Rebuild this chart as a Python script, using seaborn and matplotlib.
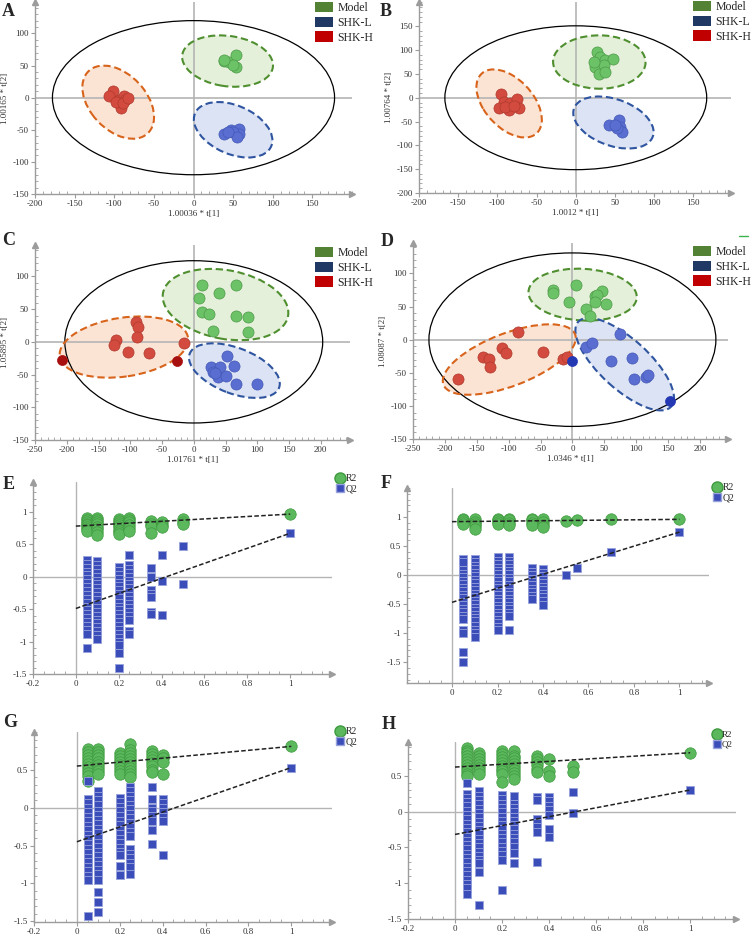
import matplotlib
matplotlib.use("Agg")
import matplotlib.pyplot as plt
from matplotlib.patches import Ellipse, Patch
from matplotlib.lines import Line2D
from matplotlib.ticker import FixedLocator, AutoMinorLocator, FuncFormatter
import seaborn as sns

sns.set_style("white")
plt.rcParams['font.family'] = ['Liberation Serif', 'DejaVu Serif']

# ---------------- PCA / PLS-DA score data ----------------
group_names = ['Model', 'SHK-L', 'SHK-H']

# panel A
a_model_t1 = [39, 45, 54, 53, 50, 38]
a_model_t2 = [57, 56, 67, 47, 51, 59]
a_shkl_t1 = [38, 47, 57, 58, 50, 55, 43]
a_shkl_t2 = [-56, -51, -48, -57, -54, -61, -53]
a_shkh_t1 = [-102, -106, -94, -88, -86, -92, -98, -89, -83]
a_shkh_t2 = [11, 3, -3, 2, -3, -16, -6, -8, 0]

# panel B
b_model_t1 = [27, 31, 37, 48, 24, 36, 29, 37, 23]
b_model_t2 = [95, 86, 80, 82, 65, 69, 50, 55, 74]
b_shkl_t1 = [43, 55, 56, 59, 52, 50]
b_shkl_t2 = [-57, -46, -61, -71, -63, -57]
b_shkh_t1 = [-95, -92, -84, -75, -73, -98, -85, -90, -79]
b_shkh_t2 = [8, -8, -11, -2, -21, -21, -25, -19, -17]

# panel C
c_model_t1 = [13, 67, 9, 39, 13, 24, 67, 85, 86, 30]
c_model_t2 = [87, 87, 67, 75, 46, 43, 40, 38, 15, 17]
c_shkl_t1 = [53, 63, 27, 42, 31, 38, 50, 67, 100, 34]
c_shkl_t2 = [-21, -37, -38, -38, -46, -53, -52, -64, -64, -47]
c_shkh_t1 = [-91, -88, -122, -125, -89, -103, -71, -16]
c_shkh_t2 = [30, 23, 3, -5, 8, -15, -17, -2]
c_out_t1 = [-207, -27]
c_out_t2 = [-27, -29]

# panel D
d_model_t1 = [-30, -30, 6, -6, 36, 47, 39, 52, 36, 22, 28]
d_model_t2 = [75, 71, 83, 57, 66, 74, 68, 54, 57, 47, 36]
d_shkl_t1 = [75, 22, 31, 60, 93, 96, 116, 119]
d_shkl_t2 = [9, -11, -5, -32, -27, -59, -56, -54]
d_out_t1 = [0, 153]
d_out_t2 = [-32, -92]
d_shkh_t1 = [-86, -110, -104, -46, -140, -131, -129, -179, -14, -9]
d_shkh_t2 = [12, -12, -20, -18, -26, -29, -42, -60, -29, -26]

# confidence ellipses: (centre t1, centre t2, width, height, angle)
a_ellipses = [(43, 57, 116, 78, -12), (50, -50, 110, 72, -35), (-95, -7, 124, 76, -60)]
b_ellipses = [(30, 75, 118, 112, -5), (48, -52, 124, 84, -50), (-85, -12, 150, 70, -70)]
c_ellipses = [(50, 57, 200, 105, -10), (64, -44, 150, 70, -20), (-110, -8, 204, 90, 8)]
d_ellipses = [(16, 68, 170, 78, -3), (82, -37, 194, 76, -41), (-99, -30, 220, 80, 20)]
hotelling = {'A': (356, 240), 'B': (334, 302), 'C': (406, 248), 'D': (450, 262)}

# axis titles
a_labels = ('1.00036 * t[1]', '1.00165 * t[2]')
b_labels = ('1.0012 * t[1]', '1.00764 * t[2]')
c_labels = ('1.01761 * t[1]', '1.05895 * t[2]')
d_labels = ('1.0346 * t[1]', '1.08087 * t[2]')

# ---------------- permutation test data ----------------
e_cols = [0.05, 0.1, 0.2, 0.25, 0.35, 0.4, 0.5, 1.0]
e_r2 = [[0.91, 0.88, 0.85, 0.82, 0.79, 0.76, 0.73, 0.70],
        [0.91, 0.88, 0.85, 0.81, 0.77, 0.73, 0.69, 0.65],
        [0.89, 0.86, 0.83, 0.80, 0.76, 0.72, 0.69, 0.66],
        [0.91, 0.88, 0.84, 0.80, 0.75, 0.70],
        [0.86, 0.82, 0.78, 0.67],
        [0.84, 0.80, 0.77],
        [0.89, 0.85, 0.81],
        [0.965]]
e_q2 = [[0.25, 0.2, 0.14, 0.08, 0.02, -0.04, -0.1, -0.16, -0.22, -0.28, -0.34, -0.4, -0.46, -0.52,
         -0.58, -0.64, -0.7, -0.76, -0.82, -0.89, -1.1],
        [0.24, 0.18, 0.12, 0.06, 0.0, -0.06, -0.12, -0.18, -0.24, -0.3, -0.36, -0.42, -0.48, -0.54,
         -0.6, -0.66, -0.72, -0.78, -0.84, -0.9, -0.96],
        [0.15, 0.09, 0.03, -0.03, -0.09, -0.15, -0.21, -0.27, -0.33, -0.4, -0.46, -0.52, -0.58, -0.64,
         -0.7, -0.76, -0.82, -0.88, -0.94, -1.0, -1.05, -1.18, -1.41],
        [0.34, 0.18, 0.12, 0.06, 0.0, -0.06, -0.12, -0.18, -0.24, -0.3, -0.36, -0.42, -0.48, -0.54,
         -0.6, -0.67, -0.83, -0.88],
        [0.14, -0.01, -0.2, -0.26, -0.32, -0.55, -0.58],
        [0.33, -0.06, -0.59],
        [0.47, -0.12],
        [0.67]]
e_intercepts = (0.78, -0.49)

f_cols = [0.05, 0.1, 0.2, 0.25, 0.35, 0.4, 0.5, 0.55, 0.7, 1.0]
f_r2 = [[0.97, 0.94, 0.91, 0.88],
        [0.96, 0.92, 0.88, 0.84, 0.80],
        [0.97, 0.94, 0.91, 0.88],
        [0.97, 0.94, 0.90, 0.86],
        [0.97, 0.94, 0.90, 0.86],
        [0.96, 0.92, 0.87, 0.82],
        [0.93], [0.94], [0.96], [0.96]]
f_q2 = [[0.27, 0.22, 0.08, 0.02, -0.04, -0.1, -0.16, -0.22, -0.28, -0.34, -0.4, -0.46, -0.52, -0.58,
         -0.64, -0.7, -0.76, -0.94, -1.0, -1.33, -1.49],
        [0.28, 0.22, 0.16, 0.1, 0.04, -0.02, -0.08, -0.14, -0.2, -0.26, -0.32, -0.38, -0.44, -0.5,
         -0.56, -0.62, -0.68, -0.74, -0.8, -0.88, -0.94, -1.0, -1.06],
        [0.31, 0.25, 0.19, 0.13, 0.07, 0.01, -0.05, -0.11, -0.17, -0.23, -0.29, -0.35, -0.41, -0.47,
         -0.53, -0.59, -0.65, -0.71, -0.77, -0.83, -0.89, -0.94],
        [0.31, 0.25, 0.19, 0.13, 0.07, 0.01, -0.05, -0.11, -0.17, -0.23, -0.29, -0.35, -0.41, -0.47,
         -0.53, -0.59, -0.65, -0.71, -0.95],
        [0.12, 0.06, 0.0, -0.06, -0.12, -0.18, -0.24, -0.3, -0.36, -0.42],
        [0.1, 0.04, -0.02, -0.08, -0.14, -0.2, -0.26, -0.32, -0.38, -0.44, -0.52],
        [0.0], [0.12], [0.4], [0.74]]
f_intercepts = (0.92, -0.47)

g_cols = [0.05, 0.1, 0.2, 0.25, 0.35, 0.4, 1.0]
g_r2 = [[0.78, 0.74, 0.70, 0.66, 0.62, 0.58, 0.54, 0.50, 0.46, 0.42, 0.35],
        [0.77, 0.73, 0.69, 0.65, 0.61, 0.57, 0.53, 0.49, 0.45],
        [0.72, 0.68, 0.64, 0.60, 0.56, 0.52, 0.48, 0.44],
        [0.84, 0.76, 0.72, 0.68, 0.64, 0.60, 0.56, 0.52, 0.48, 0.44, 0.40],
        [0.75, 0.71, 0.67, 0.63, 0.59, 0.55, 0.50, 0.47],
        [0.69, 0.65, 0.61, 0.45],
        [0.81]]
g_q2 = [[0.35, 0.12, 0.06, 0.0, -0.06, -0.12, -0.18, -0.24, -0.3, -0.36, -0.42, -0.48, -0.54, -0.6,
         -0.66, -0.72, -0.78, -0.84, -0.9, -0.95, -1.43],
        [0.22, 0.16, 0.1, 0.04, -0.04, -0.1, -0.16, -0.22, -0.28, -0.34, -0.4, -0.46, -0.52, -0.58,
         -0.64, -0.7, -0.76, -0.82, -0.88, -0.95, -1.12, -1.24, -1.38],
        [0.13, 0.07, 0.01, -0.05, -0.11, -0.17, -0.23, -0.29, -0.35, -0.41, -0.47, -0.53, -0.59,
         -0.63, -0.77, -0.89],
        [0.28, 0.22, 0.16, 0.1, 0.04, -0.02, -0.08, -0.14, -0.2, -0.26, -0.32, -0.38, -0.55, -0.61,
         -0.67, -0.73, -0.79, -0.87],
        [0.27, 0.11, 0.0, -0.05, -0.11, -0.17, -0.3, -0.48],
        [0.12, 0.06, 0.0, -0.06, -0.12, -0.18, -0.62],
        [0.53]]
g_intercepts = (0.55, -0.45)

h_cols = [0.05, 0.1, 0.2, 0.25, 0.35, 0.4, 0.5, 1.0]
h_r2 = [[0.89, 0.85, 0.81, 0.77, 0.73, 0.69, 0.65, 0.61, 0.57, 0.53, 0.50],
        [0.81, 0.77, 0.73, 0.69, 0.65, 0.61, 0.57, 0.53],
        [0.84, 0.80, 0.76, 0.72, 0.68, 0.64, 0.60, 0.56, 0.52, 0.41],
        [0.84, 0.78, 0.74, 0.70, 0.66, 0.62, 0.58, 0.54, 0.50, 0.45],
        [0.77, 0.73, 0.69, 0.65, 0.60, 0.55],
        [0.73, 0.56, 0.49],
        [0.63, 0.55],
        [0.82]]
h_q2 = [[0.4, 0.25, 0.19, 0.13, 0.07, 0.01, -0.05, -0.11, -0.17, -0.23, -0.29, -0.35, -0.41, -0.47,
         -0.53, -0.59, -0.65, -0.71, -0.77, -0.83, -0.89, -0.95, -1.01, -1.07, -1.15],
        [0.28, 0.22, 0.16, 0.1, 0.04, -0.02, -0.08, -0.14, -0.2, -0.26, -0.32, -0.38, -0.44, -0.5,
         -0.56, -0.62, -0.68, -0.72, -0.85, -1.31],
        [0.23, 0.17, 0.11, 0.05, -0.01, -0.07, -0.13, -0.19, -0.25, -0.31, -0.37, -0.43, -0.49, -0.55,
         -0.61, -0.68, -1.1],
        [0.22, 0.11, 0.05, -0.01, -0.07, -0.13, -0.19, -0.25, -0.31, -0.37, -0.43, -0.49, -0.58, -0.72],
        [0.2, 0.16, -0.1, -0.16, -0.22, -0.28, -0.71],
        [0.2, 0.14, 0.08, 0.02, -0.05, -0.25, -0.35],
        [0.27, -0.02],
        [0.3]]
h_intercepts = (0.62, -0.32)

pca_ticks_ab_x = [-200, -150, -100, -50, 0, 50, 100, 150]
pca_ticks_a_y = [-150, -100, -50, 0, 50, 100]
pca_ticks_b_y = [-200, -150, -100, -50, 0, 50, 100, 150]
pca_ticks_cd_x = [-250, -200, -150, -100, -50, 0, 50, 100, 150, 200]
pca_ticks_cd_y = [-150, -100, -50, 0, 50, 100]
perm_ticks_x = [-0.2, 0, 0.2, 0.4, 0.6, 0.8, 1]
perm_ticks_x_f = [0, 0.2, 0.4, 0.6, 0.8, 1]
perm_ticks_y = [-1.5, -1, -0.5, 0, 0.5, 1]
perm_ticks_y_gh = [-1.5, -1, -0.5, 0, 0.5]

# ---------------- styling ----------------
W, H = 752, 936
GREY = '#9c9c9c'
ZERO = '#b4b4b4'
legend_cols = ['#548235', '#1F3864', '#C00000']
pt_fill = ['#6CC267', '#5A6ED2', '#D24B3E']
pt_edge = ['#4E9A48', '#4358B5', '#B03A2E']
ell_fill = ['#E5F0DB', '#DCE3F4', '#FCE4D5']
ell_edge = ['#4F8F2F', '#2F55A0', '#D8641C']
R2_FILL, R2_EDGE = '#5CB85C', '#3F9A3F'
Q2_FILL, Q2_EDGE = '#3A4DB8', '#98A2DC'

fig = plt.figure(figsize=(W / 100, H / 100), dpi=100)


def px_axes(left, top, right, bottom):
    return fig.add_axes([left / W, 1 - bottom / H, (right - left) / W, (bottom - top) / H])


def frame(ax, xlim, ylim, xticks, yticks, xminor, yminor):
    ax.set_xlim(xlim)
    ax.set_ylim(ylim)
    ax.set_facecolor('none')
    for s in ['top', 'right']:
        ax.spines[s].set_visible(False)
    for s in ['left', 'bottom']:
        ax.spines[s].set_color(GREY)
        ax.spines[s].set_linewidth(1.0)
    ax.xaxis.set_major_locator(FixedLocator(xticks))
    ax.yaxis.set_major_locator(FixedLocator(yticks))
    ax.xaxis.set_minor_locator(AutoMinorLocator(xminor))
    ax.yaxis.set_minor_locator(AutoMinorLocator(yminor))
    fmt = FuncFormatter(lambda v, _: f"{round(v, 3):g}")
    ax.xaxis.set_major_formatter(fmt)
    ax.yaxis.set_major_formatter(fmt)
    ax.tick_params(which='major', direction='out', length=3, width=0.8, color=GREY,
                   labelsize=6.5, labelcolor='#333333', pad=1.5)
    ax.tick_params(which='minor', direction='in', length=2, width=0.6, color=GREY)
    ax.tick_params(bottom=True, left=True, which='both')
    ax.plot(1, ylim[0], '>', color=GREY, ms=5, transform=ax.get_yaxis_transform(), clip_on=False)
    ax.plot(xlim[0], 1, '^', color=GREY, ms=5, transform=ax.get_xaxis_transform(), clip_on=False)


def pca_panel(ax, groups, ellipses, hot, labels, outliers=None):
    ax.axhline(0, color=ZERO, lw=1.2, zorder=2)
    ax.axvline(0, color=ZERO, lw=1.2, zorder=2)
    ax.add_patch(Ellipse((0, 0), hot[0], hot[1], fill=False, ec='black', lw=0.9, zorder=3))
    for i, (cx, cy, w, h, ang) in enumerate(ellipses):
        ax.add_patch(Ellipse((cx, cy), w, h, angle=ang, fc=ell_fill[i], ec='none', zorder=1))
        ax.add_patch(Ellipse((cx, cy), w, h, angle=ang, fill=False, ec=ell_edge[i],
                             lw=1.5, ls=(0, (3.5, 1.8)), zorder=4))
    for i, (tx, ty) in enumerate(groups):
        sns.scatterplot(x=tx, y=ty, ax=ax, s=64, color=pt_fill[i], edgecolor=pt_edge[i],
                        linewidth=0.5, zorder=5, legend=False)
    if outliers is not None:
        tx, ty, col = outliers
        sns.scatterplot(x=tx, y=ty, ax=ax, s=52, color=col, edgecolor=col,
                        linewidth=0.5, zorder=6, legend=False)
    ax.set_xlabel(labels[0], fontsize=6.5, color='#333333', labelpad=1)
    ax.set_ylabel(labels[1], fontsize=6.5, color='#333333', labelpad=2)


def perm_panel(ax, cols, r2, q2, intercepts):
    ax.axhline(0, color=ZERO, lw=1.0, zorder=2)
    ax.axvline(0, color=ZERO, lw=1.0, zorder=2)
    r2_x = [c for c, col in zip(cols, r2) for _ in col]
    r2_y = [v for col in r2 for v in col]
    q2_x = [c for c, col in zip(cols, q2) for _ in col]
    q2_y = [v for col in q2 for v in col]
    sns.scatterplot(x=r2_x, y=r2_y, ax=ax, marker='o', s=68, color=R2_FILL, edgecolor=R2_EDGE,
                    linewidth=0.5, zorder=4, legend=False)
    sns.scatterplot(x=q2_x, y=q2_y, ax=ax, marker='s', s=36, color=Q2_FILL, edgecolor=Q2_EDGE,
                    linewidth=0.6, zorder=5, legend=False)
    ax.plot([0, cols[-1]], [intercepts[0], r2[-1][0]], color='#222222', lw=1.1,
            ls=(0, (3, 1.5)), zorder=6)
    ax.plot([0, cols[-1]], [intercepts[1], q2[-1][0]], color='#222222', lw=1.1,
            ls=(0, (3, 1.5)), zorder=6)


def group_legend(x, y):
    handles = [Patch(facecolor=c, edgecolor='none', label=l) for c, l in zip(legend_cols, group_names)]
    fig.legend(handles=handles, loc='upper left', bbox_to_anchor=(x / W, 1 - y / H), frameon=False,
               fontsize=8.5, handlelength=1.5, handleheight=0.95, handletextpad=0.4,
               labelspacing=0.22, borderaxespad=0, borderpad=0)


def perm_legend(x, y, size=7):
    handles = [Line2D([], [], ls='', marker='o', ms=8, mfc=R2_FILL, mec=R2_EDGE, label='R2'),
               Line2D([], [], ls='', marker='s', ms=6, mfc=Q2_FILL, mec=Q2_EDGE, label='Q2')]
    fig.legend(handles=handles, loc='upper left', bbox_to_anchor=(x / W, 1 - y / H), frameon=False,
               fontsize=size, handlelength=0.8, handletextpad=0.2, labelspacing=0.15,
               borderaxespad=0, borderpad=0)


# ---------------- panels A-D ----------------
ax = px_axes(35, 2, 352, 194)
frame(ax, (-200, 200), (-150, 149), pca_ticks_ab_x, pca_ticks_a_y, 5, 5)
pca_panel(ax, [(a_model_t1, a_model_t2), (a_shkl_t1, a_shkl_t2), (a_shkh_t1, a_shkh_t2)],
          a_ellipses, hotelling['A'], a_labels)

ax = px_axes(419, 2, 731, 193)
frame(ax, (-200, 198), (-200, 201), pca_ticks_ab_x, pca_ticks_b_y, 5, 5)
pca_panel(ax, [(b_model_t1, b_model_t2), (b_shkl_t1, b_shkl_t2), (b_shkh_t1, b_shkh_t2)],
          b_ellipses, hotelling['B'], b_labels)

ax = px_axes(35, 245, 350, 440)
frame(ax, (-250, 246), (-150, 148), pca_ticks_cd_x, pca_ticks_cd_y, 5, 5)
pca_panel(ax, [(c_model_t1, c_model_t2), (c_shkl_t1, c_shkl_t2), (c_shkh_t1, c_shkh_t2)],
          c_ellipses, hotelling['C'], c_labels, (c_out_t1, c_out_t2, '#A80F0F'))

ax = px_axes(413, 243, 728, 439)
frame(ax, (-250, 244), (-150, 146), pca_ticks_cd_x, pca_ticks_cd_y, 5, 5)
pca_panel(ax, [(d_model_t1, d_model_t2), (d_shkl_t1, d_shkl_t2), (d_shkh_t1, d_shkh_t2)],
          d_ellipses, hotelling['D'], d_labels, (d_out_t1, d_out_t2, '#2438B4'))

# ---------------- panels E-H ----------------
ax = px_axes(33, 482, 332, 674)
frame(ax, (-0.2, 1.195), (-1.5, 1.46), perm_ticks_x, perm_ticks_y, 4, 5)
perm_panel(ax, e_cols, e_r2, e_q2, e_intercepts)

ax = px_axes(407, 488, 709, 683)
frame(ax, (-0.198, 1.13), (-1.86, 1.5), perm_ticks_x_f, perm_ticks_y, 4, 5)
perm_panel(ax, f_cols, f_r2, f_q2, f_intercepts)

ax = px_axes(34, 732, 332, 922)
frame(ax, (-0.2, 1.19), (-1.51, 1.0), perm_ticks_x, perm_ticks_y_gh, 4, 5)
perm_panel(ax, g_cols, g_r2, g_q2, g_intercepts)

ax = px_axes(408, 742, 736, 919)
frame(ax, (-0.2, 1.195), (-1.5, 0.97), perm_ticks_x, perm_ticks_y_gh, 4, 5)
perm_panel(ax, h_cols, h_r2, h_q2, h_intercepts)

# legends
group_legend(315, 2)
group_legend(693, 1)
group_legend(315, 247)
group_legend(693, 246)
perm_legend(336, 474)
perm_legend(713, 483)
perm_legend(336, 727)
perm_legend(713, 731, size=6.5)

# panel letters
for letter, x, y in [('A', 2, 3), ('B', 380, 3), ('C', 2, 232), ('D', 381, 233),
                     ('E', 3, 476), ('F', 381, 475), ('G', 3, 714), ('H', 382, 716)]:
    fig.text(x / W, 1 - y / H, letter, fontsize=13, fontweight='bold', va='top', ha='left')

# small green mark at the top right of panel D
fig.add_artist(Line2D([739 / W, 748 / W], [1 - 236 / H, 1 - 236 / H], color='#3CB44B', lw=1))

fig.savefig('out.png', dpi=100)
